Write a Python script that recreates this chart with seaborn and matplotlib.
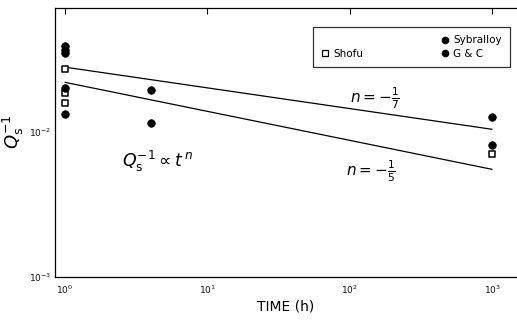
import numpy as np
import pandas as pd
import matplotlib
matplotlib.use("Agg")
import matplotlib.pyplot as plt
import seaborn as sns
from matplotlib.lines import Line2D
from matplotlib.ticker import LogLocator, NullFormatter

# Measured internal friction Q_s^-1 versus time (hours)
shofu_t = [1, 1, 1, 1000]
shofu_q = [0.0272, 0.0185, 0.0158, 0.0070]

sybralloy_t = [1, 1, 4, 1000]
sybralloy_q = [0.0390, 0.0201, 0.0195, 0.0127]

gc_t = [1, 1, 1, 4, 1000]
gc_q = [0.0365, 0.0349, 0.0133, 0.0115, 0.0081]

# Power-law fits Q_s^-1 = A * t^n
fit_t = [1, 1000]
fit_upper_A, fit_upper_n = 0.028, -1 / 7
fit_lower_A, fit_lower_n = 0.022, -1 / 5

sns.set_theme(style="white")
plt.rcParams["font.family"] = ["DejaVu Sans"]
plt.rcParams["mathtext.fontset"] = "dejavusans"
plt.rcParams["text.color"] = "black"

fig = plt.figure(figsize=(5.17, 3.21), dpi=100)
ax = fig.add_axes([55 / 517, 44 / 321, 462 / 517, 269 / 321])

pts = pd.concat([
    pd.DataFrame({"t": shofu_t, "q": shofu_q, "alloy": "Shofu"}),
    pd.DataFrame({"t": sybralloy_t, "q": sybralloy_q, "alloy": "Sybralloy"}),
    pd.DataFrame({"t": gc_t, "q": gc_q, "alloy": "G & C"}),
])

ax.set_xscale("log")
ax.set_yscale("log")

sns.scatterplot(data=pts[pts.alloy == "Shofu"], x="t", y="q", marker="s",
                s=22, facecolor="white", edgecolor="black", linewidth=1.1,
                ax=ax, legend=False, zorder=3)
sns.scatterplot(data=pts[pts.alloy != "Shofu"], x="t", y="q", marker="o",
                s=30, color="black", edgecolor="black", linewidth=0.5,
                ax=ax, legend=False, zorder=3)

fits = pd.DataFrame({
    "t": fit_t * 2,
    "q": [fit_upper_A * t ** fit_upper_n for t in fit_t]
         + [fit_lower_A * t ** fit_lower_n for t in fit_t],
    "fit": ["upper"] * 2 + ["lower"] * 2,
})
for name, grp in fits.groupby("fit"):
    sns.lineplot(data=grp, x="t", y="q", color="black", linewidth=0.9,
                 ax=ax, legend=False)

ax.set_xlim(10 ** -0.07, 10 ** 3.175)
ax.set_ylim(1e-3, 10 ** -1.145)

ax.xaxis.set_major_locator(LogLocator(base=10, numticks=10))
ax.xaxis.set_minor_locator(LogLocator(base=10, subs=np.arange(2, 10), numticks=10))
ax.xaxis.set_minor_formatter(NullFormatter())
ax.yaxis.set_major_locator(LogLocator(base=10, numticks=10))
ax.yaxis.set_minor_locator(LogLocator(base=10, subs=[], numticks=10))

ax.tick_params(axis="both", which="major", direction="in", length=4, width=0.8,
               labelsize=6.5, color="black", labelcolor="#111111", top=True)
ax.tick_params(axis="x", which="minor", direction="in", length=2, width=0.5, top=False)
ax.tick_params(axis="x", which="major", pad=5)
ax.tick_params(axis="y", which="major", pad=3)

for side in ["left", "bottom", "top"]:
    ax.spines[side].set_color("black")
    ax.spines[side].set_linewidth(0.9)
ax.spines["right"].set_visible(False)

ax.set_xlabel("TIME (h)", fontsize=10, labelpad=2, color="black")
ax.set_ylabel(r"$Q_{\rm s}^{-1}$", fontsize=13, color="black")
ax.yaxis.label.set_verticalalignment("center")
ax.yaxis.set_label_coords(-0.09, 0.54)

ax.text(150, 0.0172, r"$n = -\frac{1}{7}$", fontsize=11, ha="center", va="center")
ax.text(140, 0.0054, r"$n = -\frac{1}{5}$", fontsize=11, ha="center", va="center")
ax.text(4.5, 0.0063, r"$Q_{\rm s}^{-1} \propto t^{\,n}$", fontsize=12.5,
        ha="center", va="center")

blank = Line2D([], [], linestyle="none", marker="none")
h_shofu = Line2D([], [], linestyle="none", marker="s", markersize=4,
                 markerfacecolor="white", markeredgecolor="black", markeredgewidth=0.9)
h_syb = Line2D([], [], linestyle="none", marker="o", markersize=4.5,
               markerfacecolor="black", markeredgecolor="black")
h_gc = Line2D([], [], linestyle="none", marker="o", markersize=4.5,
              markerfacecolor="black", markeredgecolor="black")
leg = ax.legend([blank, h_shofu, h_syb, h_gc], ["", "Shofu", "Sybralloy", "G & C"],
                ncol=2, loc="upper left", bbox_to_anchor=(0.558, 0.929, 0.427, 0),
                mode="expand", fontsize=7.5, frameon=True, fancybox=False,
                edgecolor="black", borderpad=0.8, handlelength=0.8,
                handletextpad=0.4, labelspacing=0.35, borderaxespad=0)
leg.get_frame().set_linewidth(0.9)

fig.savefig("out.png", dpi=100)
